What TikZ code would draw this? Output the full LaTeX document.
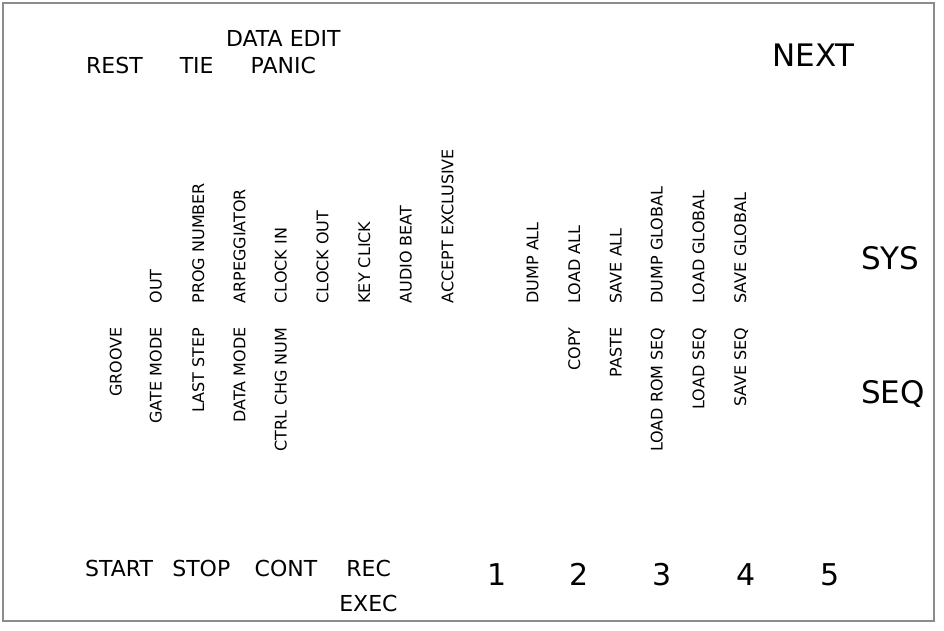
\documentclass[tikz,border=0pt]{standalone}
\usepackage{fontspec}
\setmainfont{DejaVu Sans}
\begin{document}
\begin{tikzpicture}[x=1pt,y=-1pt,
  every node/.style={inner sep=0pt, outer sep=0pt},
  keylabel/.style={font=\fontsize{22}{26}\selectfont, anchor=base},
  biglabel/.style={font=\fontsize{31}{36}\selectfont, anchor=base},
  numlabel/.style={font=\fontsize{30}{36}\selectfont, anchor=base},
  fnup/.style={font=\fontsize{16}{19}\selectfont, rotate=90, anchor=base west},
  fndown/.style={font=\fontsize{16}{19}\selectfont, rotate=90, anchor=base east},
  panel/.style={draw={rgb,255:red,140;green,140;blue,140}, line width=1.2pt}]
  \useasboundingbox (0,0) rectangle (944,630);
  % panel outline
  \draw[panel] (3,3) rectangle (934,621);

  % top row of keys
  \node[keylabel] (rest)  at (114.5,73.3) {REST};
  \node[keylabel] (tie)   at (196.7,73.3) {TIE};
  \node[keylabel] (dataedit) at (283.3,46) {DATA EDIT};
  \node[keylabel] (panic) at (283.3,73.3) {PANIC};
  \node[biglabel] (next)  at (813.7,66.5) {NEXT};

  % mode selectors
  \node[biglabel, anchor=base west] (sys) at (861,269) {SYS};
  \node[biglabel, anchor=base west] (seq) at (861,403) {SEQ};

  % SYS functions (upper row)
  \node[fnup] (out)     at (161.7,303.5) {OUT};
  \node[fnup] (prog)    at (204,303.5)   {PROG NUMBER};
  \node[fnup] (arp)     at (245.3,303.5) {ARPEGGIATOR};
  \node[fnup] (clkin)   at (286.7,303.5) {CLOCK IN};
  \node[fnup] (clkout)  at (328.3,303.5) {CLOCK OUT};
  \node[fnup] (keyclk)  at (370,303.5)   {KEY CLICK};
  \node[fnup] (audio)   at (411.7,303.5) {AUDIO BEAT};
  \node[fnup] (accept)  at (453.3,303.5) {ACCEPT EXCLUSIVE};
  \node[fnup] (dumpall) at (538.3,303.5) {DUMP ALL};
  \node[fnup] (loadall) at (580,303.5)   {LOAD ALL};
  \node[fnup] (saveall) at (621.7,303.5) {SAVE ALL};
  \node[fnup] (dumpglb) at (662.7,303.5) {DUMP GLOBAL};
  \node[fnup] (loadglb) at (704.3,303.5) {LOAD GLOBAL};
  \node[fnup] (saveglb) at (746,303.5)   {SAVE GLOBAL};

  % SEQ functions (lower row)
  \node[fndown] (groove)  at (121.7,327.5) {GROOVE};
  \node[fndown] (gate)    at (161.7,327.5) {GATE MODE};
  \node[fndown] (last)    at (204,327.5)   {LAST STEP};
  \node[fndown] (datamd)  at (245.3,327.5) {DATA MODE};
  \node[fndown] (ctrl)    at (286.7,327.5) {CTRL CHG NUM};
  \node[fndown] (copy)    at (580,327.5)   {COPY};
  \node[fndown] (paste)   at (621.7,327.5) {PASTE};
  \node[fndown] (loadrom) at (662.7,327.5) {LOAD ROM SEQ};
  \node[fndown] (loadseq) at (704.3,327.5) {LOAD SEQ};
  \node[fndown] (saveseq) at (746,327.5)   {SAVE SEQ};

  % bottom row of keys
  \node[keylabel] (start) at (119,576) {START};
  \node[keylabel] (stop)  at (201.3,576) {STOP};
  \node[keylabel] (cont)  at (286,576) {CONT};
  \node[keylabel] (rec)   at (368.6,576) {REC};
  \node[keylabel] (exec)  at (368.4,611) {EXEC};

  % number keys
  \node[numlabel] (k1) at (496.7,585) {1};
  \node[numlabel] (k2) at (579,585)   {2};
  \node[numlabel] (k3) at (662.5,585) {3};
  \node[numlabel] (k4) at (746.5,585) {4};
  \node[numlabel] (k5) at (830.5,585) {5};
\end{tikzpicture}
\end{document}
